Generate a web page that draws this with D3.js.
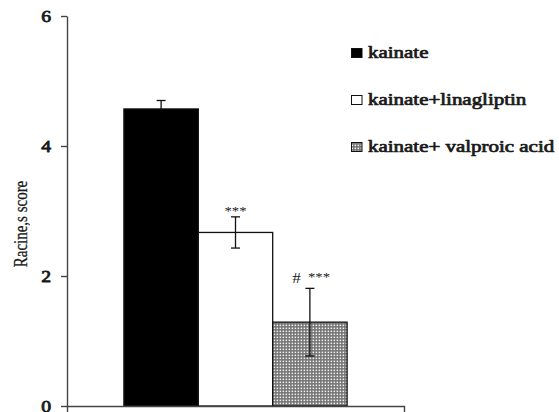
<!DOCTYPE html>
<html>
<head>
<meta charset="utf-8">
<script src="https://cdn.jsdelivr.net/npm/d3@7"></script>
<style>
  html, body { margin: 0; padding: 0; background: #fff; }
  svg { display: block; }
</style>
</head>
<body>
<svg id="chart" width="559" height="412"></svg>
<script>
// Racine's score after kainate, with treatments
const groups = ["kainate", "kainate+linagliptin", "kainate+ valproic acid"];
const scores = [4.57, 2.67, 1.29];
const sems = [0.13, 0.24, 0.52];
const marks = ["", "***", "#"];
const yTicks = [0, 2, 4, 6];

const SERIF = "'Liberation Serif', 'Times New Roman', Tinos, Times, serif";
const stretch = 1.23; // glyphs are drawn a little wider than tall

const svg = d3.select("#chart");

// dotted fill for the valproic acid group
const defs = svg.append("defs");
const pat = defs.append("pattern")
  .attr("id", "dots").attr("patternUnits", "userSpaceOnUse")
  .attr("width", 3).attr("height", 3);
pat.append("rect").attr("width", 3).attr("height", 3).attr("fill", "#747474");
pat.append("rect").attr("x", 0.6).attr("y", 0.6).attr("width", 1.5).attr("height", 1.5).attr("fill", "#f2f2f2");

const fills = ["#000", "#fff", "url(#dots)"];

const y = d3.scaleLinear().domain([0, 6]).range([406, 16]);
const x = d3.scaleBand().domain(groups).range([67, 404])
  .paddingInner(0).paddingOuter(0.765);

// bars
svg.append("g").selectAll("rect").data(groups).join("rect")
  .attr("x", d => x(d))
  .attr("y", (d, i) => y(scores[i]))
  .attr("width", x.bandwidth())
  .attr("height", (d, i) => y(0) - y(scores[i]))
  .attr("fill", (d, i) => fills[i])
  .attr("stroke", "#111").attr("stroke-width", 1.3);

// error bars
const eb = svg.append("g").attr("stroke", "#111").attr("stroke-width", 1.3);
groups.forEach((g, i) => {
  const cx = x(g) + x.bandwidth() / 2;
  const lo = i === 0 ? scores[i] : scores[i] - sems[i];
  const hi = scores[i] + sems[i];
  eb.append("line").attr("x1", cx).attr("x2", cx).attr("y1", y(lo)).attr("y2", y(hi));
  eb.append("line").attr("x1", cx - 4.5).attr("x2", cx + 4.5).attr("y1", y(hi)).attr("y2", y(hi));
  if (i !== 0)
    eb.append("line").attr("x1", cx - 4.5).attr("x2", cx + 4.5).attr("y1", y(lo)).attr("y2", y(lo));
});

// serif text, widened; "heavy" adds an outline stroke to thicken the glyphs
function label(tx, ty, str, size, anchor, heavy, sx) {
  const t = svg.append("text")
    .attr("transform", `translate(${tx},${ty}) scale(${sx || stretch},1)`)
    .attr("text-anchor", anchor).attr("font-size", size)
    .attr("fill", "#1a1a1a")
    .attr("font-family", SERIF).style("font-family", SERIF)
    .text(str);
  if (heavy) t.attr("stroke", "#1a1a1a").attr("stroke-width", 0.7).attr("stroke-linejoin", "round");
  return t;
}

// significance marks
groups.forEach((g, i) => {
  const cx = x(g) + x.bandwidth() / 2;
  const top = y(scores[i] + sems[i]);
  if (i === 1) label(cx, top - 2, marks[1], 12, "middle");
  if (i === 2) {
    label(cx - 9, top - 5, marks[2], 14, "end");
    label(cx - 2, top - 7, "***", 12, "start");
  }
});

// y axis
const yAxis = svg.append("g").attr("transform", "translate(67,0)")
  .call(d3.axisLeft(y).tickValues(yTicks).tickSize(6).tickSizeOuter(0).tickFormat(d3.format("d")));
yAxis.attr("font-family", SERIF);
yAxis.select(".domain").attr("stroke", "#444").attr("stroke-width", 1.4);
yAxis.selectAll(".tick line").attr("stroke", "#444").attr("stroke-width", 1.4);
yAxis.selectAll(".tick text")
  .attr("x", 0).attr("dy", "0.35em")
  .attr("transform", `translate(-16,0) scale(${stretch},1)`)
  .attr("font-size", 16).attr("fill", "#1a1a1a")
  .attr("stroke", "#1a1a1a").attr("stroke-width", 0.8).attr("stroke-linejoin", "round")
  .attr("font-family", SERIF).style("font-family", SERIF);

// x axis (category baseline with end ticks only)
const xAxis = svg.append("g").attr("transform", "translate(0,406)")
  .call(d3.axisBottom(x).tickValues([]).tickSizeOuter(6));
xAxis.select(".domain").attr("stroke", "#444").attr("stroke-width", 1.4);

// y axis title
svg.append("text")
  .attr("transform", `translate(27,224) scale(${stretch},1) rotate(-90)`)
  .attr("text-anchor", "middle").attr("font-size", 15).attr("fill", "#1a1a1a")
  .attr("stroke", "#1a1a1a").attr("stroke-width", 0.25)
  .attr("font-family", SERIF).style("font-family", SERIF)
  .text("Racine,s score");

// legend
const rowY = [53, 100, 147];
groups.forEach((g, i) => {
  svg.append("rect").attr("x", 351.5).attr("y", rowY[i] - 4.5).attr("width", 10.5).attr("height", 9)
    .attr("fill", fills[i]).attr("stroke", "#111").attr("stroke-width", 1);
  label(368, rowY[i] + 5, g, 16, "start", true, 1.31);
});
</script>
</body>
</html>
